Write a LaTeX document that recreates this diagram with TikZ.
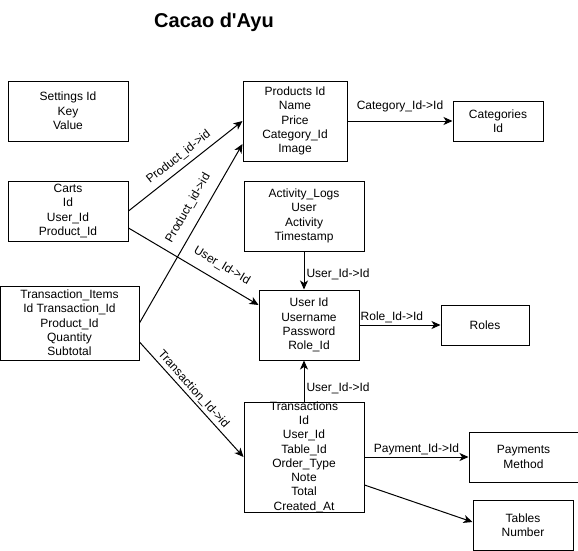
\documentclass[tikz,border=0pt]{standalone}
\usepackage{fontspec}
\setmainfont{Liberation Sans}
\usetikzlibrary{arrows.meta}

\tikzset{
  entity/.style={draw, line width=1pt, align=center, inner sep=0pt,
    font=\fontsize{12}{14.3}\selectfont},
  fk/.style={-{Stealth[length=9pt,width=8pt,inset=2.5pt]}, line width=1pt},
  fklabel/.style={font=\fontsize{12}{14}\selectfont, inner sep=2pt}
}

\begin{document}
\begin{tikzpicture}[x=1pt, y=-1pt]
		\useasboundingbox (0,0) rectangle (578,551);
		
		\node[font=\fontsize{20}{24}\selectfont\bfseries] (title) at (214,22) {Cacao d\textquotesingle Ayu};
		
		% tables
		\node[entity, minimum width=120pt, minimum height=60pt] (settings) at (68,111) {Settings Id\\Key\\Value};
		\node[entity, minimum width=120pt, minimum height=60pt] (carts) at (68,211) {Carts\\Id\\User\_Id\\Product\_Id};
		\node[entity, minimum width=139pt, minimum height=74pt] (titems) at (69.5,323) {Transaction\_Items\\Id Transaction\_Id\\Product\_Id\\Quantity\\Subtotal};
		\node[entity, minimum width=104pt, minimum height=80pt] (products) at (295,121) {Products Id\\Name\\Price\\Category\_Id\\Image};
		\node[entity, minimum width=90pt, minimum height=40pt] (categories) at (498,121) {Categories\\Id};
		\node[entity, minimum width=120pt, minimum height=70pt] (activity) at (304,216) {Activity\_Logs\\User\\Activity\\Timestamp};
		\node[entity, minimum width=100pt, minimum height=70pt] (user) at (309,325) {User Id\\Username\\Password\\Role\_Id};
		\node[entity, minimum width=88pt, minimum height=40pt] (roles) at (485,325) {Roles};
		\node[entity, minimum width=120pt, minimum height=110pt] (trans) at (304,457) {};
		\node[align=center, inner sep=0pt, font=\fontsize{12}{14.3}\selectfont] (transtext) at (trans) {Transactions\\Id\\User\_Id\\Table\_Id\\Order\_Type\\Note\\Total\\Created\_At};
		\node[entity, minimum width=109pt, minimum height=50pt] (payments) at (523.5,457) {Payments\\Method};
		\node[entity, minimum width=100pt, minimum height=50pt] (tables) at (523,525) {Tables\\Number};
		
		% relations
		\draw[fk] (carts.east) -- node[fklabel, sloped, above=3pt, pos=0.5] {Product\_id->id} (products.west);
		\draw[fk] (titems.east) -- node[fklabel, sloped, above=7pt, pos=0.6] {Product\_id->id} ([yshift=-23pt]products.west);
		\draw[fk] ([yshift=-17pt]carts.east) -- node[fklabel, sloped, above=7pt, pos=0.66] {User\_Id->Id} ([yshift=20pt]user.west);
		\draw[fk] ([yshift=-19pt]titems.east) -- node[fklabel, sloped, above, pos=0.46] {Transaction\_Id->id} (trans.west);
		\draw[fk] (products.east) -- node[fklabel, above=7pt] {Category\_Id->Id} (categories.west);
		\draw[fk] (activity.south) -- node[fklabel, right, pos=0.6] {User\_Id->Id} (activity.south |- user.north);
		\draw[fk] (user.east) -- node[fklabel, above, pos=0.4] {Role\_Id->Id} (roles.west);
		\draw[fk] (trans.north) -- node[fklabel, right, pos=0.33] {User\_Id->Id} (trans.north |- user.south);
		\draw[fk] (trans.east) -- node[fklabel, above] {Payment\_Id->Id} (payments.west);
		\draw[fk] ([yshift=-28pt]trans.east) -- ([yshift=3pt]tables.west);
\end{tikzpicture}
\end{document}
